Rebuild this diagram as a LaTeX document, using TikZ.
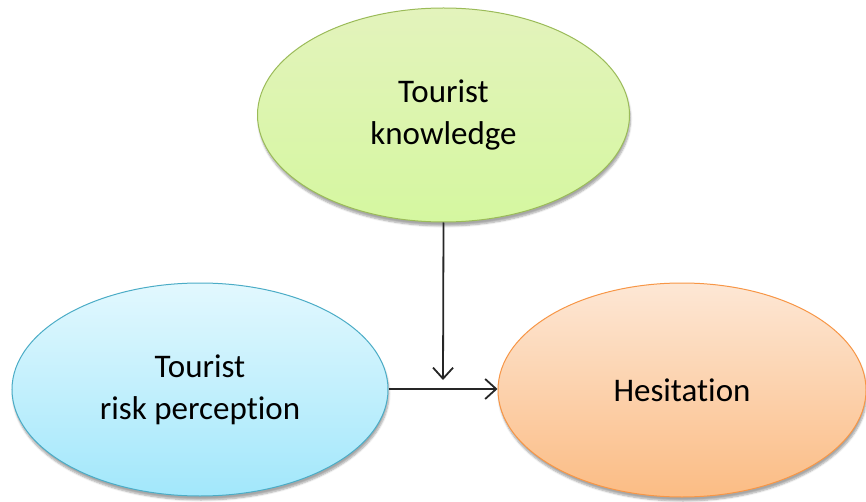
\documentclass[tikz,border=0pt]{standalone}
\usepackage{fontspec}
\setmainfont[Ligatures={NoCommon}]{Carlito}
\usetikzlibrary{shapes.geometric,arrows.meta,shadows.blur}
\definecolor{gtop}{HTML}{E3F3BC}
\definecolor{gbot}{HTML}{D5F7A0}
\definecolor{gline}{HTML}{9BBB59}
\definecolor{btop}{HTML}{E2F8FE}
\definecolor{bbot}{HTML}{A2E7FB}
\definecolor{bline}{HTML}{4BACC6}
\definecolor{otop}{HTML}{FDE7D5}
\definecolor{obot}{HTML}{FBBC84}
\definecolor{oline}{HTML}{F79646}
\definecolor{arr}{HTML}{262626}
\tikzset{
  oval/.style={ellipse, inner sep=0pt, line width=1pt, align=center,
    font=\fontsize{33}{42}\selectfont,
    blur shadow={shadow xshift=1pt, shadow yshift=-4pt, shadow blur steps=6, shadow opacity=35}},
  conn/.style={draw=arr, line width=1.8pt, -{Straight Barb[length=11pt,width=20pt,line width=1.8pt]}}
}
\begin{document}
\begin{tikzpicture}[x=1pt,y=1pt]
\useasboundingbox (0,0) rectangle (866,501);
\node[oval, minimum width=372pt, minimum height=214pt, draw=gline, top color=gtop, bottom color=gbot] (know) at (443.5,386) {Tourist\\knowledge};
\node[oval, minimum width=376pt, minimum height=213pt, draw=bline, top color=btop, bottom color=bbot] (risk) at (200,111.5) {Tourist\\risk perception};
\node[oval, minimum width=368pt, minimum height=214pt, draw=oline, top color=otop, bottom color=obot] (hes) at (682,111) {Hesitation};
\coordinate (meet) at (443,121);
\draw[conn] (risk.east |- 0,112) -- (hes.west |- 0,112);
\draw[conn] (know.south) -- (meet);
\end{tikzpicture}
\end{document}
